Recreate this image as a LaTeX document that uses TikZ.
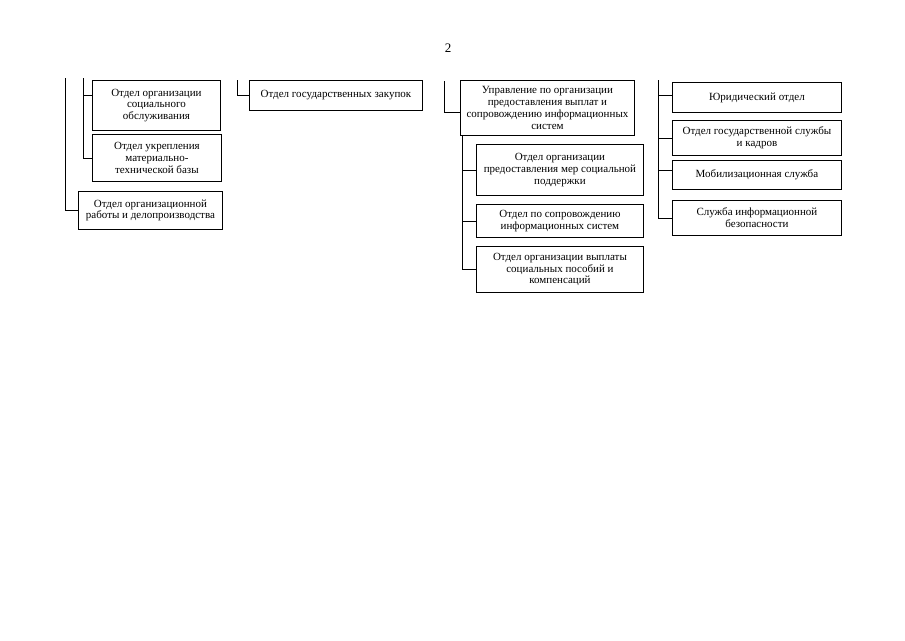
\documentclass[tikz,border=0pt]{standalone}
\usepackage{fontspec}
\setmainfont{Liberation Serif}
\begin{document}
\begin{tikzpicture}[x=1pt,y=-1pt,
  box/.style={draw, line width=0.9pt, anchor=north west, align=center, inner sep=1pt,
    font=\fontsize{11}{11.8}\selectfont},
  conn/.style={line width=0.9pt}]
\useasboundingbox[fill=white] (0,0) rectangle (905,640);
\node[font=\fontsize{13}{15}\selectfont] (pg) at (448,48) {2};
% left group
\node[box, minimum width=128pt, minimum height=50pt] (soc) at (92,80) {Отдел организации\\социального\\обслуживания};
\node[box, minimum width=129pt, minimum height=47pt] (mtb) at (92,134) {Отдел укрепления\\материально-\\технической базы};
\node[box, minimum width=144pt, minimum height=38pt] (org) at (78,191) {Отдел организационной\\работы и делопроизводства};
\coordinate (tL) at (65,78);
\coordinate (tI) at (83,78);
\coordinate (jS) at (83,95);
\draw[conn] (tL) |- (org.west);
\draw[conn] (tI) |- (mtb.west);
\draw[conn] (jS) -- (jS -| soc.west);
% middle
\node[box, minimum width=173pt, minimum height=30pt] (zak) at (249,80) {Отдел государственных закупок};
\coordinate (tM) at (237,80);
\draw[conn] (tM) |- (zak.west);
% upravlenie
\node[box, minimum width=174pt, minimum height=55pt] (upr) at (460,80) {Управление по организации\\предоставления выплат и\\сопровождению информационных\\систем};
\coordinate (tU) at (444,81);
\coordinate (jU) at (444,112);
\draw[conn] (tU) -- (jU) -- (jU -| upr.west);
\node[box, minimum width=167pt, minimum height=51pt] (c1) at (476,144) {Отдел организации\\предоставления мер социальной\\поддержки};
\node[box, minimum width=167pt, minimum height=33pt] (c2) at (476,204) {Отдел по сопровождению\\информационных систем};
\node[box, minimum width=167pt, minimum height=46pt] (c3) at (476,246) {Отдел организации выплаты\\социальных пособий и\\компенсаций};
\coordinate (v1) at (462,135);
\draw[conn] (v1) |- (c3.west);
\draw[conn] (v1 |- c1.west) -- (c1.west);
\draw[conn] (v1 |- c2.west) -- (c2.west);
% right group
\node[box, minimum width=169pt, minimum height=30pt] (ur) at (672,82) {Юридический отдел};
\node[box, minimum width=169pt, minimum height=35pt] (kad) at (672,120) {Отдел государственной службы\\и кадров};
\node[box, minimum width=169pt, minimum height=29pt] (mob) at (672,160) {Мобилизационная служба};
\node[box, minimum width=169pt, minimum height=35pt] (sib) at (672,200) {Служба информационной\\безопасности};
\coordinate (tR) at (658,80);
\draw[conn] (tR) |- (sib.west);
\coordinate (jR1) at (658,95);
\coordinate (jR3) at (658,170);
\draw[conn] (jR1) -- (jR1 -| ur.west);
\draw[conn] (tR |- kad.west) -- (kad.west);
\draw[conn] (jR3) -- (jR3 -| mob.west);
\end{tikzpicture}
\end{document}
